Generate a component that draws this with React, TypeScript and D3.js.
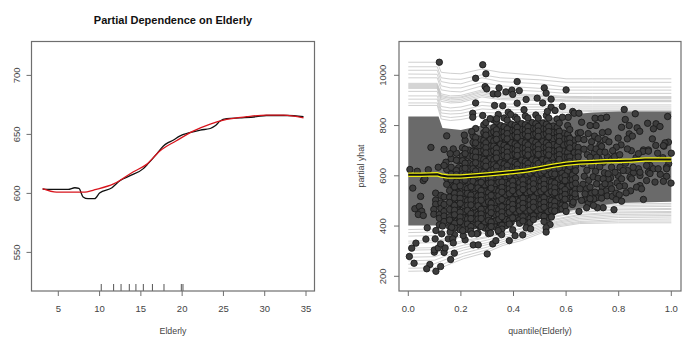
import * as d3 from "d3";
import React from "react";

// left panel: partial dependence
const elderlyTicks = [5, 10, 15, 20, 25, 30, 35];
const pdTicks = [550, 600, 650, 700];
const rugValues = [10.2, 11.7, 12.6, 13.6, 14.4, 15.3, 16.4, 17.8, 19.9, 20.1];
const pdBlack = [
  [3.1, 603.7], [5, 603.4], [6.2, 603.4], [7, 604.8], [7.5, 604.2], [8, 597], [8.6, 595.5],
  [9.4, 595.5], [10, 600.3], [11.5, 604.8], [12.5, 611], [13.7, 615], [15.3, 621], [15.9, 625.4],
  [16.9, 633.3], [17.7, 640], [18.3, 643], [18.9, 645], [19.7, 648.6], [20.9, 651.4], [22.2, 653.7],
  [23.4, 655], [24, 657.3], [24.6, 661.3], [25.4, 663.3], [27, 664], [29, 665], [30.2, 666],
  [32.7, 666], [34.7, 665],
];
const pdRed = [
  [3.1, 604], [4.8, 601], [8, 601], [9.6, 603.4], [11.7, 608], [14.1, 618.4], [15.7, 624.6],
  [17.3, 636], [19.3, 644.6], [21.4, 653], [23.4, 658.8], [25.4, 662.7], [27.8, 665], [30.2, 666.4],
  [32.3, 666.4], [34.7, 664],
];

// right panel: ICE curves
const quantileTicks = [0, 0.2, 0.4, 0.6, 0.8, 1];
const yhatTicks = [200, 400, 600, 800, 1000];
const upperKnots = [0, 0.11, 0.125, 0.16, 0.2, 0.28, 0.35, 0.5, 0.6, 0.7, 1];
const upperCurves = [
  [1052, 1052, 1012, 1008, 1006, 1025, 1012, 999, 986, 986, 986],
  [1034, 1034, 990, 985, 984, 1002, 990, 982, 972, 972, 972],
  [1020, 1020, 975, 968, 966, 990, 975, 966, 953, 953, 953],
  [1005, 1004, 958, 950, 950, 972, 958, 948, 941, 941, 941],
  [990, 990, 942, 936, 934, 958, 944, 936, 928, 928, 928],
  [968, 968, 926, 918, 920, 942, 928, 922, 916, 915, 915],
  [964, 964, 920, 912, 914, 937, 924, 918, 912, 912, 912],
  [960, 960, 915, 908, 910, 932, 920, 915, 909, 908, 908],
  [956, 956, 910, 902, 904, 926, 914, 909, 902, 901, 901],
  [952, 952, 904, 896, 898, 920, 908, 904, 899, 898, 898],
  [948, 948, 896, 890, 892, 914, 903, 899, 896, 895, 895],
  [936, 936, 876, 870, 874, 894, 886, 884, 882, 882, 882],
  [918, 918, 862, 858, 860, 880, 874, 874, 874, 874, 874],
  [905, 905, 850, 846, 848, 866, 862, 864, 866, 866, 866],
  [890, 890, 838, 832, 836, 852, 850, 854, 858, 860, 860],
  [880, 880, 826, 820, 824, 840, 840, 846, 852, 856, 856],
];
const lowerKnots = [0, 0.1, 0.145, 0.21, 0.3, 0.36, 0.43, 0.5, 0.56, 0.65, 0.8, 1];
const lowerCurves = [
  [220, 222, 243, 270, 296, 323, 342, 370, 395, 410, 413, 413],
  [232, 234, 254, 280, 306, 330, 350, 376, 400, 414, 420, 420],
  [248, 250, 268, 292, 316, 338, 358, 382, 405, 418, 426, 428],
  [262, 264, 282, 304, 326, 346, 366, 388, 410, 424, 434, 436],
  [276, 278, 294, 314, 334, 354, 372, 394, 414, 430, 440, 442],
  [290, 292, 306, 324, 344, 362, 380, 400, 418, 436, 446, 448],
  [304, 306, 318, 336, 354, 370, 388, 406, 424, 442, 452, 454],
  [312, 314, 326, 342, 358, 374, 392, 410, 428, 446, 456, 458],
  [332, 334, 344, 358, 372, 386, 402, 418, 436, 454, 464, 466],
  [340, 342, 350, 364, 378, 392, 406, 422, 440, 456, 468, 470],
  [360, 362, 368, 380, 392, 404, 418, 432, 448, 464, 476, 478],
  [374, 376, 380, 390, 402, 414, 426, 440, 454, 470, 482, 484],
  [386, 388, 392, 400, 410, 422, 434, 446, 460, 476, 488, 490],
];
const bandKnots = [0, 0.115, 0.13, 0.2, 0.28, 0.4, 0.5, 0.6, 0.7, 0.8, 1];
const bandTop = [836, 836, 790, 782, 800, 812, 822, 842, 852, 856, 856];
const bandBottom = [402, 402, 402, 396, 400, 415, 435, 458, 478, 492, 497];
const meanCurve = [
  [0, 604], [0.05, 604], [0.11, 606], [0.125, 601], [0.15, 597], [0.2, 597], [0.25, 601],
  [0.3, 605], [0.35, 610], [0.4, 615], [0.45, 621], [0.5, 630], [0.55, 640], [0.6, 648],
  [0.65, 653], [0.7, 655], [0.75, 658], [0.8, 659], [0.85, 661], [0.9, 665], [0.95, 665], [1, 665],
];

// points read one at a time from the sparse edges
const loosePoints = [
  [0.118, 1052], [0.283, 1042], [0.295, 1006], [0.256, 988], [0.414, 975], [0.292, 955], [0.298, 946],
  [0.345, 950], [0.323, 926], [0.34, 926], [0.371, 934], [0.394, 941], [0.397, 924], [0.422, 939],
  [0.448, 904], [0.49, 909], [0.256, 890], [0.328, 880], [0.359, 879], [0.414, 889], [0.44, 863],
  [0.245, 849], [0.245, 833], [0.283, 840], [0.342, 844], [0.38, 853], [0.389, 844], [0.336, 827],
  [0.311, 827], [0.146, 759], [0.086, 713], [0.136, 705], [0.171, 707], [0.213, 762], [0.241, 776],
  [0.517, 950], [0.524, 929], [0.6, 942], [0.543, 905], [0.511, 890], [0.586, 876], [0.543, 873],
  [0.558, 860], [0.529, 856], [0.625, 856], [0.631, 849], [0.649, 849], [0.821, 864], [0.863, 847],
  [0.986, 836], [0.71, 829], [0.733, 829], [0.754, 833], [0.825, 824], [0.91, 809], [0.942, 807],
  [0.957, 796], [0.932, 787], [0.84, 800], [0.811, 793], [0.87, 791], [0.88, 777], [0.659, 813],
  [0.608, 833], [0.586, 833], [0.76, 775], [0.714, 800], [0.691, 800], [0.84, 767], [0.833, 747],
  [0.852, 758], [0.798, 750], [0.763, 735], [0.928, 747], [0.989, 734], [0.976, 731], [0.972, 718],
  [0.941, 721], [0.809, 723], [0.791, 714], [0.729, 723], [0.714, 707], [0.833, 707], [0.894, 703],
  [0.913, 703], [0.777, 700], [0.97, 720], [1.0, 690], [0.892, 697], [0.913, 698], [0.875, 688],
  [0.735, 717], [0.729, 694], [0.748, 694], [0.716, 674], [0.691, 674], [0.919, 641], [0.982, 634],
  [0.932, 628], [0.913, 614], [0.875, 628], [0.855, 634], [0.833, 621], [0.805, 634], [0.773, 634],
  [0.798, 601], [0.843, 594], [0.881, 601], [0.906, 581], [0.938, 575], [0.97, 578], [0.999, 571],
  [0.881, 561], [0.868, 555], [0.887, 548], [0.828, 532], [0.79, 531], [0.802, 524], [0.79, 505],
  [0.811, 499], [0.894, 506], [0.782, 465], [0.741, 473], [0.719, 473], [0.704, 482], [0.678, 473],
  [0.649, 458], [0.6, 458], [0.539, 406], [0.524, 393], [0.524, 376], [0.735, 511], [0.767, 565],
  [0.76, 588], [0.811, 588], [0.849, 588], [0.919, 609], [0.95, 628], [0.982, 628], [0.906, 641],
  [0.881, 614], [0.817, 621], [0.786, 614], [0.76, 608], [0.741, 588], [0.716, 568], [0.748, 568],
  [0.773, 548], [0.733, 535], [0.71, 535], [0.691, 555], [0.672, 528], [0.653, 548], [0.634, 528],
  [0.691, 509], [0.659, 502], [0.627, 495], [0.159, 688], [0.143, 654], [0.114, 634], [0.136, 641],
  [0.006, 625], [0.034, 618], [0.076, 624], [0.057, 581], [0.063, 589], [0.017, 551], [0.047, 518],
  [0.025, 469], [0.042, 478], [0.051, 459], [0.038, 446], [0.057, 442], [0.072, 393], [0.067, 348],
  [0.029, 332], [0.013, 312], [0.004, 279], [0.022, 252], [0.082, 247], [0.07, 230], [0.123, 239],
  [0.105, 220], [0.161, 267], [0.175, 292], [0.3, 289], [0.099, 296], [0.099, 305], [0.136, 295],
  [0.14, 313], [0.114, 313], [0.123, 329], [0.102, 349], [0.127, 369], [0.152, 349], [0.169, 349],
  [0.171, 333], [0.216, 345], [0.247, 325], [0.266, 325], [0.321, 329], [0.333, 342], [0.384, 342],
  [0.406, 362], [0.435, 365], [0.355, 366], [0.313, 372], [0.342, 382], [0.26, 369], [0.241, 369],
  [0.209, 362], [0.207, 382], [0.159, 376], [0.105, 382], [0.13, 400], [0.165, 395], [0.397, 385],
  [0.448, 393], [0.465, 389],
];

// thinner part of the cloud right of the core
const midPoints = [
  [0.655, 772], [0.668, 744], [0.684, 768], [0.697, 736], [0.708, 758], [0.722, 748], [0.738, 772],
  [0.749, 744], [0.668, 706], [0.681, 684], [0.694, 712], [0.707, 690], [0.725, 668], [0.742, 654],
  [0.757, 676], [0.772, 664], [0.786, 680], [0.664, 648], [0.679, 622], [0.698, 640], [0.712, 618],
  [0.728, 636], [0.746, 612], [0.669, 598], [0.686, 582], [0.703, 596], [0.722, 590], [0.737, 556],
  [0.752, 540], [0.664, 566], [0.678, 548], [0.697, 530], [0.715, 512], [0.672, 505], [0.684, 490],
  [0.705, 508], [0.756, 520], [0.769, 592], [0.794, 572], [0.822, 560], [0.845, 540], [0.776, 518],
  [0.803, 558], [0.856, 612], [0.826, 650], [0.866, 672], [0.848, 700], [0.784, 676], [0.804, 684],
  [0.958, 606], [0.982, 598], [0.948, 690], [0.968, 672], [0.99, 648],
];

// dense middle of the cloud, listed by quantile column (drawn first)
const coreUnder: [number, number[]][] = [
  [0.171, [612, 586, 560, 536, 512, 488, 464, 440, 414]],
  [0.191, [660, 632, 608, 582, 558, 532, 510, 484, 460, 436, 412]],
  [0.211, [682, 656, 630, 604, 580, 556, 530, 506, 482, 456, 432, 408]],
  [0.231, [702, 678, 650, 628, 602, 578, 552, 528, 504, 478, 454, 430, 404]],
  [0.251, [726, 700, 674, 648, 624, 600, 574, 550, 526, 500, 476, 450, 428, 402]],
  [0.271, [746, 720, 696, 670, 646, 620, 596, 570, 546, 522, 498, 472, 448, 424, 398]],
  [0.291, [762, 736, 712, 686, 662, 638, 612, 588, 564, 538, 514, 490, 466, 440, 416, 392]],
  [0.311, [770, 744, 718, 694, 668, 644, 620, 596, 572, 546, 522, 496, 472, 448, 422, 398]],
  [0.331, [788, 764, 740, 714, 690, 666, 642, 616, 592, 568, 544, 520, 494, 470, 446, 420, 396]],
  [0.351, [800, 774, 750, 726, 702, 676, 652, 628, 604, 580, 554, 530, 506, 482, 456, 432, 408]],
  [0.371, [792, 768, 742, 718, 694, 670, 646, 620, 596, 572, 548, 524, 498, 474, 450, 426, 402]],
  [0.391, [806, 780, 756, 732, 706, 682, 658, 634, 608, 584, 560, 536, 510, 486, 462, 438, 414]],
  [0.411, [798, 772, 748, 724, 700, 676, 650, 626, 602, 578, 552, 528, 504, 480, 456, 430]],
  [0.431, [808, 784, 760, 736, 710, 686, 662, 638, 612, 588, 564, 540, 516, 490, 466, 442]],
  [0.451, [800, 776, 752, 728, 702, 678, 654, 630, 606, 580, 556, 532, 508, 484, 458, 436, 412]],
  [0.471, [812, 788, 762, 738, 714, 690, 664, 640, 616, 592, 568, 542, 518, 494, 470, 446]],
  [0.491, [802, 778, 752, 728, 704, 680, 654, 630, 606, 582, 558, 532, 508, 486, 462, 438]],
  [0.511, [810, 786, 762, 736, 712, 688, 664, 640, 614, 590, 566, 542, 518, 494, 470, 444]],
  [0.531, [800, 776, 750, 726, 702, 678, 652, 628, 604, 580, 556, 530, 506, 482, 458, 432]],
  [0.551, [798, 772, 748, 724, 698, 674, 650, 626, 600, 576, 552, 528, 502, 478, 456]],
  [0.571, [782, 756, 732, 708, 684, 660, 634, 610, 586, 562, 536, 512, 488, 466]],
  [0.591, [770, 746, 722, 698, 674, 648, 624, 600, 576, 550, 526, 502, 480]],
  [0.611, [754, 730, 706, 680, 656, 632, 608, 584, 558, 534, 510]],
  [0.631, [742, 718, 692, 670, 644, 620, 596, 570, 546]],
];
const coreColumns: [number, number[]][] = [
  [0.104, [531, 503, 487]],
  [0.097, [466, 447]],
  [0.124, [522, 492, 470]],
  [0.118, [446, 431, 405]],
  [0.146, [625, 590, 566]],
  [0.136, [516, 486, 458, 440, 418]],
  [0.163, [668, 634, 606, 584]],
  [0.157, [541, 515, 494, 466, 437, 424, 398]],
  [0.183, [690, 662, 621, 604, 575]],
  [0.176, [556, 530, 512, 482, 463, 445, 411, 392, 366]],
  [0.206, [712, 679, 660, 627, 608, 577]],
  [0.197, [560, 528, 510, 490, 455, 436, 417, 385]],
  [0.216, [741, 706, 688, 650, 630, 604, 583]],
  [0.225, [549, 530, 501, 482, 462, 428, 408, 386]],
  [0.246, [759, 733, 698, 678, 645, 628, 596, 578]],
  [0.238, [556, 523, 504, 484, 449, 430, 398, 380]],
  [0.256, [788, 752, 731, 695, 674, 652, 619, 600]],
  [0.265, [568, 552, 520, 500, 481, 445, 428, 408, 372]],
  [0.287, [803, 772, 741, 720, 701, 665, 646, 615, 590]],
  [0.277, [574, 541, 522, 503, 467, 448, 430, 398]],
  [0.295, [812, 781, 762, 731, 712, 691, 657, 638, 607]],
  [0.305, [588, 570, 533, 514, 496, 461, 440, 422, 386, 370]],
  [0.325, [822, 792, 775, 739, 718, 699, 663, 644, 626]],
  [0.315, [591, 572, 551, 522, 491, 472, 453, 416, 398]],
  [0.335, [816, 783, 764, 745, 709, 690, 671, 637, 616]],
  [0.344, [592, 574, 539, 520, 500, 465, 446, 426, 391, 376]],
  [0.364, [830, 795, 774, 755, 721, 702, 681, 647, 628]],
  [0.356, [609, 575, 554, 535, 506, 477, 456, 437, 403, 388]],
  [0.376, [822, 787, 768, 747, 713, 694, 675, 641, 620]],
  [0.384, [601, 567, 548, 529, 493, 474, 455, 421, 408]],
  [0.406, [834, 801, 780, 761, 727, 706, 687, 653, 634]],
  [0.397, [613, 579, 560, 541, 505, 486, 467, 433]],
  [0.414, [826, 793, 772, 753, 719, 700, 681, 645, 626]],
  [0.423, [607, 573, 552, 533, 499, 480, 461, 425, 411]],
  [0.445, [838, 803, 784, 765, 731, 710, 691, 657, 638]],
  [0.436, [617, 583, 564, 545, 511, 490, 471, 437, 420]],
  [0.455, [830, 795, 776, 757, 723, 702, 683, 649, 630]],
  [0.463, [611, 575, 556, 537, 503, 484, 463, 431, 414]],
  [0.485, [842, 807, 788, 767, 733, 714, 695, 659, 640]],
  [0.476, [621, 587, 568, 547, 513, 494, 475, 441, 426]],
  [0.494, [830, 797, 778, 757, 723, 704, 685, 649]],
  [0.504, [630, 611, 577, 558, 537, 503, 486, 467, 442]],
  [0.525, [840, 805, 786, 767, 731, 712, 693, 659, 640]],
  [0.516, [619, 585, 566, 547, 513, 494, 475, 439, 418]],
  [0.534, [830, 795, 776, 755, 721, 702, 683, 647, 628]],
  [0.544, [609, 575, 556, 537, 501, 482, 463, 436]],
  [0.566, [826, 793, 772, 753, 719, 698, 679, 645]],
  [0.557, [626, 607, 571, 552, 533, 497, 478, 460]],
  [0.574, [810, 777, 756, 737, 703, 684, 665, 629]],
  [0.584, [610, 591, 557, 536, 517, 483, 468]],
  [0.606, [800, 765, 746, 727, 693, 674, 653, 619]],
  [0.596, [600, 581, 545, 526, 507, 480]],
  [0.614, [784, 749, 730, 711, 675, 656, 637]],
  [0.624, [603, 584, 563, 534, 510, 486]],
  [0.646, [770, 747, 713, 692, 675]],
  [0.636, [639, 620, 591, 570, 546, 515]],
];

const width = 692;
const height = 353;
const leftBox = { x0: 31.5, x1: 314.5, y0: 41.5, y1: 291 };
const rightBox = { x0: 399, x1: 681, y0: 41.5, y1: 291 };
const axisColor = "#6e6e6e";
const textColor = "#444";
const fontFamily = "'Liberation Sans', Arial, sans-serif";

const xLeft = d3.scaleLinear().domain([5, 35]).range([58.3, 306]);
const yLeft = d3.scaleLinear().domain([550, 700]).range([252.4, 75.4]);
const xRight = d3.scaleLinear().domain([0, 1]).range([408.3, 671.3]);
const yRight = d3.scaleLinear().domain([200, 1000]).range([276.3, 75.3]);

const leftLine = d3
  .line()
  .x((d) => xLeft(d[0]))
  .y((d) => yLeft(d[1]))
  .curve(d3.curveMonotoneX);

const rightLine = d3
  .line()
  .x((d) => xRight(d[0]))
  .y((d) => yRight(d[1]));

const band = d3
  .area<number>()
  .x((q) => xRight(q))
  .y0((_, i) => yRight(bandBottom[i]))
  .y1((_, i) => yRight(bandTop[i]));

const allPoints = [
  ...coreUnder.flatMap(([q, ys]) => ys.map((y) => [q, y])),
  ...coreColumns.flatMap(([q, ys]) => ys.map((y) => [q, y])),
  ...midPoints,
  ...loosePoints,
];

function curvePath(knots: number[], values: number[]) {
  return rightLine(knots.map((q, i) => [q, values[i]]) as [number, number][]);
}

function Frame({ box }) {
  return (
    <rect
      x={box.x0}
      y={box.y0}
      width={box.x1 - box.x0}
      height={box.y1 - box.y0}
      fill="none"
      stroke={axisColor}
      strokeWidth="1.2"
    />
  );
}

function BottomTicks({ ticks, scale, y, format }) {
  return (
    <g>
      {ticks.map((t) => (
        <g key={t}>
          <line x1={scale(t)} x2={scale(t)} y1={y} y2={y + 5} stroke={axisColor} />
          <text x={scale(t)} y={y + 21} textAnchor="middle" fontSize="9.5" fill={textColor}>
            {format(t)}
          </text>
        </g>
      ))}
    </g>
  );
}

function SideTicks({ ticks, scale, x, labelX }) {
  return (
    <g>
      {ticks.map((t) => (
        <g key={t}>
          <line x1={x - 5} x2={x} y1={scale(t)} y2={scale(t)} stroke={axisColor} />
          <text
            transform={`translate(${labelX},${scale(t)}) rotate(-90)`}
            textAnchor="middle"
            fontSize="9.5"
            fill={textColor}
          >
            {t}
          </text>
        </g>
      ))}
    </g>
  );
}

export default function App() {
  return (
    <svg
      width={width}
      height={height}
      viewBox={`0 0 ${width} ${height}`}
      fontFamily={fontFamily}
      style={{ position: "absolute", left: 0, top: 0, background: "#fff" }}
    >
      {/* left panel */}
      <text x="173" y="24" textAnchor="middle" fontSize="11" fontWeight="bold" fill="#111">
        Partial Dependence on Elderly
      </text>
      <path d={leftLine(pdBlack)} fill="none" stroke="#111" strokeWidth="1.3" />
      <path d={leftLine(pdRed)} fill="none" stroke="#d8141c" strokeWidth="1.3" />
      {rugValues.map((v) => (
        <line key={v} x1={xLeft(v)} x2={xLeft(v)} y1={284} y2={291} stroke="#555" />
      ))}
      <Frame box={leftBox} />
      <BottomTicks ticks={elderlyTicks} scale={xLeft} y={leftBox.y1} format={(t) => t} />
      <SideTicks ticks={pdTicks} scale={yLeft} x={leftBox.x0} labelX={20} />
      <text x="173" y="333.5" textAnchor="middle" fontSize="8.8" fill={textColor}>
        Elderly
      </text>

      {/* right panel */}
      <path d={band(bandKnots)} fill="#6a6a6a" />
      <g fill="none" stroke="#8c8c8c" strokeWidth="0.8" opacity="0.5">
        {upperCurves.map((c, i) => (
          <path key={i} d={curvePath(upperKnots, c)} />
        ))}
        {lowerCurves.map((c, i) => (
          <path key={i} d={curvePath(lowerKnots, c)} />
        ))}
      </g>
      <g fill="#3d3d3d" stroke="#1c1c1c" strokeWidth="0.9">
        {allPoints.map(([q, y], i) => (
          <circle key={i} cx={xRight(q)} cy={yRight(y)} r="3.2" />
        ))}
      </g>
      <path d={rightLine(meanCurve)} fill="none" stroke="#eeee10" strokeWidth="4.6" />
      <path d={rightLine(meanCurve)} fill="none" stroke="#111" strokeWidth="2" />
      <Frame box={rightBox} />
      <BottomTicks
        ticks={quantileTicks}
        scale={xRight}
        y={rightBox.y1}
        format={(t) => d3.format(".1f")(t)}
      />
      <SideTicks ticks={yhatTicks} scale={yRight} x={rightBox.x0} labelX={386} />
      <text x="540" y="333.5" textAnchor="middle" fontSize="8.8" fill={textColor}>
        quantile(Elderly)
      </text>
      <text
        transform="translate(364,166) rotate(-90)"
        textAnchor="middle"
        fontSize="8.8"
        fill={textColor}
      >
        partial yhat
      </text>
    </svg>
  );
}
